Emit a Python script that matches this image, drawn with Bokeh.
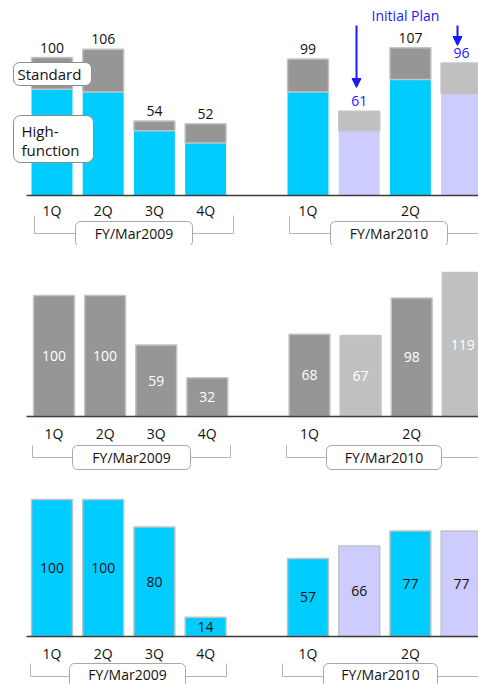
from bokeh.plotting import figure
from bokeh.models import Range1d, ColumnDataSource, Arrow, NormalHead
from bokeh.layouts import column
from bokeh.core.properties import value
from bokeh.embed import file_html
from bokeh.resources import INLINE

# ---------------- data ----------------
quarters = ["1Q", "2Q", "3Q", "4Q"]
fy_labels = ["FY/Mar2009", "FY/Mar2010"]
slots_2009 = [0, 1, 2, 3]
slots_2010 = [5, 6, 7, 8]
kind_2010 = ["actual", "plan", "actual", "plan"]
quarter_2010 = ["1Q", "", "2Q", ""]

# panel 1: total shipments (index), split high-function / standard
total_2009 = [100, 106, 54, 52]
highfunc_part_2009 = [77, 75, 47, 38]
total_2010 = [99, 61, 107, 96]
highfunc_part_2010 = [75, 47, 84, 74]

# panel 2: standard
standard_2009 = [100, 100, 59, 32]
standard_2010 = [68, 67, 98, 119]

# panel 3: high-function
highfunc_2009 = [100, 100, 80, 14]
highfunc_2010 = [57, 66, 77, 77]

FONT = value("Open Sans")
CYAN = "#00CCFF"
LAV = "#CCCCFF"
DGRAY = "#969696"
LGRAY = "#C0C0C0"
BLUE = "#1A1AFF"
EDGE = "#C4C4C4"
BRK = "#B4B4B4"

W = 478

def make_panel(top_px, height, base, scale, c0, pitch):
    p = figure(width=W, height=height, output_backend="svg", toolbar_location=None,
               x_axis_location=None, y_axis_location=None, min_border=0,
               x_range=Range1d((0 - c0) / pitch, (W - c0) / pitch),
               y_range=Range1d((base - (top_px + height)) / scale, (base - top_px) / scale))
    p.grid.visible = False
    p.outline_line_color = None
    p.background_fill_color = "white"
    p.border_fill_color = "white"
    X = lambda px: (px - c0) / pitch
    Y = lambda py: (base - py) / scale
    return p, X, Y

def baseline(p, X):
    p.segment(x0=[X(26)], x1=[X(480)], y0=[0], y1=[0], line_color="#3C3C3C", line_width=1.5)

def brackets(p, X, Y, lay, qy, ty=None):
    # quarter labels
    xs = slots_2009 + [s for s, q in zip(slots_2010, quarter_2010) if q]
    qs = quarters + [q for q in quarter_2010 if q]
    p.text(x=xs, y=[Y(qy)] * len(xs), text=qs, text_font=FONT, text_font_size=value("14px"),
           text_align="center", text_baseline="middle", text_color="#111111")
    for i, (xl, xr, yt, yb, bl, br, bt, bb) in enumerate(lay):
        p.line([X(xl), X(xl), X(bl)], [Y(yt), Y(yb), Y(yb)], line_color=BRK, line_width=1)
        if xr is not None:
            p.line([X(br), X(xr), X(xr)], [Y(yb), Y(yb), Y(yt)], line_color=BRK, line_width=1)
        else:
            p.line([X(br), X(482)], [Y(yb), Y(yb)], line_color=BRK, line_width=1)
        p.quad(left=[X(bl)], right=[X(br)], top=[Y(bt)], bottom=[Y(bb)], fill_color="white",
               line_color="#A8A8A8", line_width=1, border_radius=5)
        p.text(x=[(X(bl) + X(br)) / 2], y=[Y(ty if ty is not None else yb)], text=[fy_labels[i]],
               text_font=FONT, text_font_size=value("14px"), text_align="center",
               text_baseline="middle", text_color="#111111")

BW = 0.8

# ---------------- panel 1 ----------------
p1, X1, Y1 = make_panel(0, 245, 195, 1.38, 51.5, 51.2)
slots = slots_2009 + slots_2010
tot = total_2009 + total_2010
hfp = highfunc_part_2009 + highfunc_part_2010
kinds = ["actual"] * 4 + kind_2010
src1 = ColumnDataSource(dict(
    x=slots, tot=tot, hf=hfp,
    hfc=[CYAN if k == "actual" else LAV for k in kinds],
    stc=[DGRAY if k == "actual" else LGRAY for k in kinds],
    tc=["#111111" if k == "actual" else BLUE for k in kinds],
    lab=[str(v) for v in tot]))
p1.vbar(x="x", top="hf", bottom=0, width=BW, fill_color="hfc", line_color=None, source=src1)
p1.vbar(x="x", top="tot", bottom="hf", width=BW, fill_color="stc", line_color=EDGE,
        line_width=1.5, source=src1)
p1.text(x="x", y="tot", text="lab", text_color="tc", text_font=FONT, text_font_size=value("14px"),
        text_align="center", text_baseline="middle", y_offset=-10, source=src1)
baseline(p1, X1)
brackets(p1, X1, Y1, [(34, 233, 215, 233, 75, 192, 221, 246),
                      (289, None, 216, 233, 330, 447, 221, 246)], 209.5)
# legend boxes
p1.quad(left=[X1(13)], right=[X1(91)], top=[Y1(62)], bottom=[Y1(85)], fill_color="white",
        line_color="#8C8C8C", line_width=1, border_radius=6)
p1.quad(left=[X1(13)], right=[X1(93)], top=[Y1(115)], bottom=[Y1(162)], fill_color="white",
        line_color="#8C8C8C", line_width=1, border_radius=7)
p1.text(x=[X1(17), X1(21), X1(21)], y=[Y1(73.5), Y1(130), Y1(149)],
        text=["Standard", "High-", "function"], text_font=FONT, text_font_size=value("15px"),
        text_align="left", text_baseline="middle", text_color="#111111")
# initial plan annotation
p1.text(x=[X1(405)], y=[Y1(15)], text=["Initial Plan"], text_font=FONT,
        text_font_size=value("14px"), text_align="center", text_baseline="middle", text_color=BLUE)
for xa, y0, y1 in [(356, 25, 87), (457, 25, 45)]:
    p1.add_layout(Arrow(x_start=X1(xa), x_end=X1(xa), y_start=Y1(y0), y_end=Y1(y1),
                        line_color=BLUE, line_width=2,
                        end=NormalHead(size=9, fill_color=BLUE, line_color=BLUE)))

# ---------------- panel 2 ----------------
p2, X2, Y2 = make_panel(245, 231, 416, 1.21, 53.5, 51.1)
vals2 = standard_2009 + standard_2010
src2 = ColumnDataSource(dict(
    x=slots, v=vals2, mid=[v / 2 for v in vals2],
    c=[DGRAY if k == "actual" else LGRAY for k in kinds], lab=[str(v) for v in vals2]))
p2.vbar(x="x", top="v", bottom=0, width=BW, fill_color="c", line_color=EDGE, line_width=1.5,
        source=src2)
p2.text(x="x", y="mid", text="lab", text_color="white", text_font=FONT,
        text_font_size=value("14px"), text_align="center", text_baseline="middle", source=src2)
baseline(p2, X2)
brackets(p2, X2, Y2, [(32, 230, 445, 457, 72, 190, 445, 469),
                      (286, None, 445, 457, 326, 441, 445, 469)], 433)

# ---------------- panel 3 ----------------
p3, X3, Y3 = make_panel(476, 208, 636, 1.37, 51.5, 51.2)
vals3 = highfunc_2009 + highfunc_2010
src3 = ColumnDataSource(dict(
    x=slots, v=vals3, mid=[v / 2 for v in vals3],
    c=[CYAN if k == "actual" else LAV for k in kinds], lab=[str(v) for v in vals3]))
p3.vbar(x="x", top="v", bottom=0, width=BW, fill_color="c", line_color=EDGE, line_width=1.5,
        source=src3)
p3.text(x="x", y="mid", text="lab", text_color="#111111", text_font=FONT,
        text_font_size=value("14px"), text_align="center", text_baseline="middle", source=src3)
baseline(p3, X3)
brackets(p3, X3, Y3, [(30, 226, 663, 676, 69, 185, 663, 688),
                      (282, None, 663, 676, 323, 437, 663, 688)], 653, ty=673.5)

layout = column(p1, p2, p3, spacing=0)
open("out.html", "w").write(file_html(layout, INLINE))
